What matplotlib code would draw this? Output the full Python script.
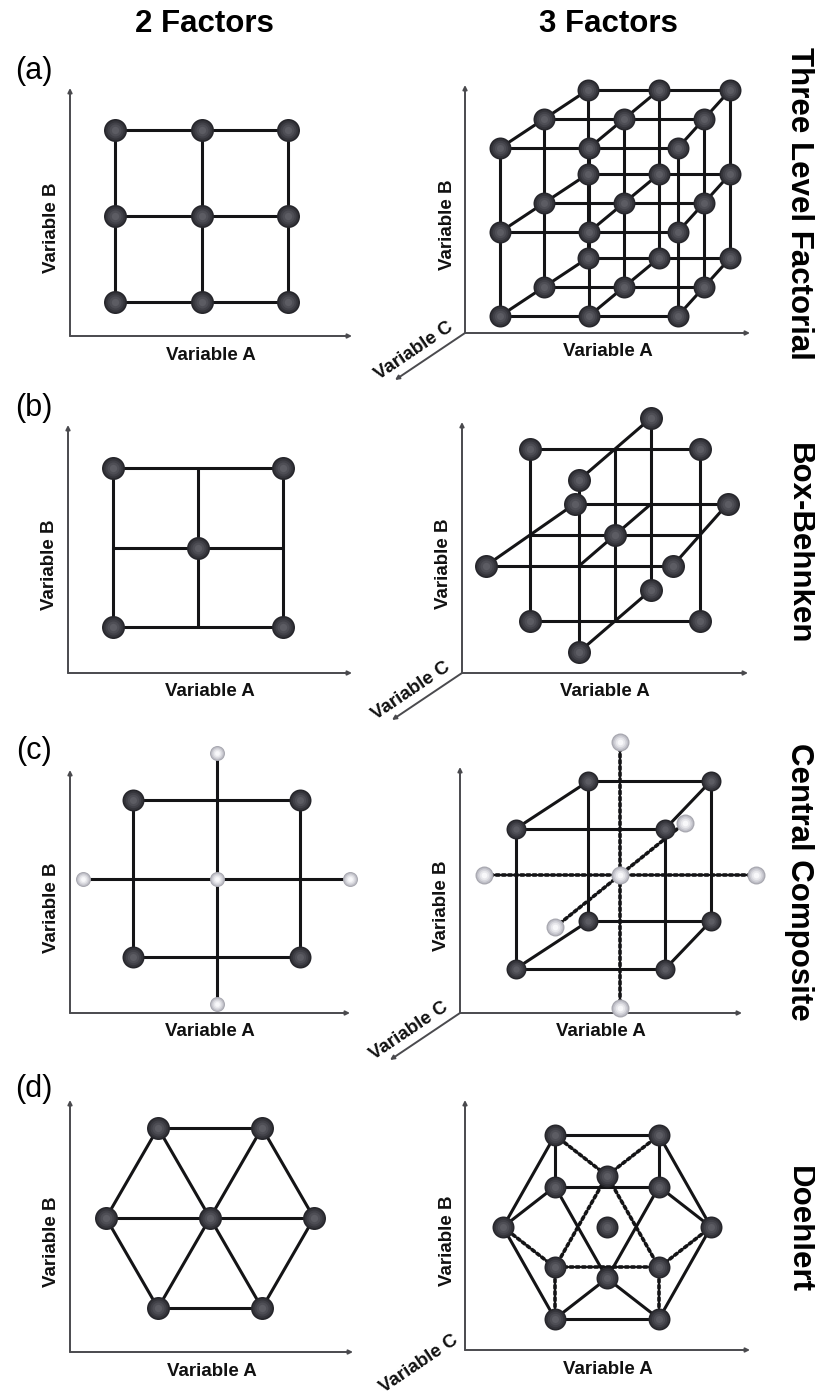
import numpy as np
import matplotlib
matplotlib.use("Agg")
import matplotlib.pyplot as plt
from matplotlib.transforms import Affine2D

plt.rcParams['font.family'] = ['Liberation Sans', 'DejaVu Sans']

# ------------------------------------------------------------------ data
# coded factor levels of each experimental design
col_titles = ["2 Factors", "3 Factors"]
row_titles = ["Three Level Factorial", "Box-Behnken", "Central Composite", "Doehlert"]
panel_tags = ["(a)", "(b)", "(c)", "(d)"]
axis_names = ["Variable A", "Variable B", "Variable C"]

# (a) three level factorial
ff2_A = [-1, 0, 1, -1, 0, 1, -1, 0, 1]
ff2_B = [1, 1, 1, 0, 0, 0, -1, -1, -1]
ff3_A = [-1, 0, 1, -1, 0, 1, -1, 0, 1,
         -1, 0, 1, -1, 0, 1, -1, 0, 1,
         -1, 0, 1, -1, 0, 1, -1, 0, 1]
ff3_B = [1, 1, 1, 0, 0, 0, -1, -1, -1,
         1, 1, 1, 0, 0, 0, -1, -1, -1,
         1, 1, 1, 0, 0, 0, -1, -1, -1]
ff3_C = [1, 1, 1, 1, 1, 1, 1, 1, 1,
         0, 0, 0, 0, 0, 0, 0, 0, 0,
         -1, -1, -1, -1, -1, -1, -1, -1, -1]

# (b) Box-Behnken
bb2_A = [-1, 1, 0, -1, 1]
bb2_B = [1, 1, 0, -1, -1]
bb2_frame = [((-1, 1), (1, 1)), ((1, 1), (1, -1)), ((1, -1), (-1, -1)),
             ((-1, -1), (-1, 1)), ((-1, 0), (1, 0)), ((0, 1), (0, -1))]
bb3_A = [-1, 1, -1, 1, -1, 1, -1, 1, 0, 0, 0, 0, 0]
bb3_B = [1, 1, -1, -1, 0, 0, 0, 0, 1, 1, -1, -1, 0]
bb3_C = [0, 0, 0, 0, 1, 1, -1, -1, 1, -1, 1, -1, 0]
bb3_axes = [((-1, 0, 0), (1, 0, 0)), ((0, -1, 0), (0, 1, 0)), ((0, 0, -1), (0, 0, 1))]

# (c) central composite
ccd2_fA = [-1, 1, -1, 1]
ccd2_fB = [1, 1, -1, -1]
ccd2_sA = [0, -1.6, 1.6, 0, 0]
ccd2_sB = [0, 0, 0, 1.6, -1.6]
ccd3_fA = [-1, 1, -1, 1, -1, 1, -1, 1]
ccd3_fB = [1, 1, -1, -1, 1, 1, -1, -1]
ccd3_fC = [1, 1, 1, 1, -1, -1, -1, -1]
ccd3_sA = [0, -2.0, 2.0, 0, 0, 0, 0]
ccd3_sB = [0, 0, 0, 1.9, -1.9, 0, 0]
ccd3_sC = [0, 0, 0, 0, 0, 2.2, -2.2]

# (d) Doehlert
doe2_A = [-0.5, 0.5, -1, 0, 1, -0.5, 0.5]
doe2_B = [0.866, 0.866, 0, 0, 0, -0.866, -0.866]
doe3_A = [0, 1, 0.5, -1, -0.5, 0.5, -0.5, 0.5, -0.5, 0, 0.5, -0.5, 0]
doe3_B = [0, 0, 0.866, 0, -0.866, -0.866, 0.866, 0.289, 0.289, -0.577, -0.289, -0.289, 0.577]
doe3_C = [0, 0, 0, 0, 0, 0, 0, 0.817, 0.817, 0.817, -0.817, -0.817, -0.817]

# ------------------------------------------------------------------ layout (pixels)
W, H = 815, 1396
fig = plt.figure(figsize=(W / 100, H / 100), dpi=100)
ax = fig.add_axes([0, 0, 1, 1])
ax.set_xlim(0, W)
ax.set_ylim(H, 0)
ax.axis('off')

L2 = [dict(cx=201.5, cy=216, sA=86.5, sB=86),
      dict(cx=198, cy=547.5, sA=85, sB=79.5),
      dict(cx=216.5, cy=878.5, sA=83.5, sB=78.5),
      dict(cx=210, cy=1218, sA=104, sB=104)]
L3 = [dict(cx=624, cy=203, sA=80, sB=84, k=0.11, dx=-35, dy=29),
      dict(cx=615, cy=535, sA=85, sB=86, k=0.10, dx=-36, dy=31),
      dict(cx=620, cy=875, sA=68, sB=70, k=0.10, dx=-29.5, dy=23.75),
      dict(cx=607, cy=1227, sA=104, sB=106, k=0.0, dx=0, dy=-12)]
AXL = [(70, 88, 336, 352), (68, 425, 673, 352), (70, 770, 1013, 350), (70, 1100, 1352, 353)]
AXR = [(465, 85, 333, 750), (462, 422, 673, 748), (460, 767, 1013, 742), (465, 1100, 1350, 750)]
TITLE_Y = [203, 544, 882, 1230]
TAG_Y = [71, 408, 751, 1089]
CLAB = [(-51, 18), (-51, 18), (-51, 18), (-46, 14)]

LINE_C = '#141416'
AX_C = '#4a4a4e'
LW = 2.2


def tr2(p):
    return Affine2D().scale(p['sA'], -p['sB']).translate(p['cx'], p['cy']) + ax.transData


def proj(A, B, C, p):
    A, B, C = (np.asarray(v, float) for v in (A, B, C))
    u = A * (1 + p['k'] * C) + C * p['dx'] / p['sA']
    v = B - C * p['dy'] / p['sB']
    return u, v


def spheres(xs, ys, tr, d_px, light=False, z=5):
    if light:
        cols = ['#a8a8b0', '#c0c0c8', '#d6d6dc', '#e8e8ec', '#f8f8fa']
    else:
        cols = ['#26262b', '#34343a', '#414148', '#4e4e55', '#5c5c63']
    fr = [1.0, 0.86, 0.7, 0.52, 0.32]
    for c, f in zip(cols, fr):
        ax.plot(xs, ys, 'o', ms=d_px * 0.72 * f, color=c, mec='none',
                transform=tr, zorder=z)


def seg(p0, p1, tr, dotted=False, z=3):
    ls = (0, (0.8, 0.9)) if dotted else '-'
    ax.plot([p0[0], p1[0]], [p0[1], p1[1]], color=LINE_C, lw=LW if not dotted else 2.6,
            ls=ls, transform=tr, zorder=z, solid_capstyle='butt', dash_capstyle='round')


def pairs_at(P, dist, tol=0.05):
    P = np.asarray(P, float)
    out = []
    for i in range(len(P)):
        for j in range(i + 1, len(P)):
            if abs(np.linalg.norm(P[i] - P[j]) - dist) < tol:
                out.append((i, j))
    return out


def draw_frame(x0, top, bot, right, three, clab=(-51, 18)):
    kw = dict(arrowstyle='-|>', color=AX_C, lw=1.4, mutation_scale=6,
              shrinkA=0, shrinkB=0)
    ax.annotate('', xy=(x0, top), xytext=(x0, bot), arrowprops=kw, zorder=1)
    ax.annotate('', xy=(right, bot), xytext=(x0, bot), arrowprops=kw, zorder=1)
    fkw = dict(fontsize=13.5, fontweight='bold', ha='center', va='center', color='#111')
    ax.text((x0 + right) / 2, bot + 19, axis_names[0], **fkw)
    ax.text(x0 - 18, (top + bot) / 2 + 16, axis_names[1], rotation=90, **fkw)
    if three:
        ax.annotate('', xy=(x0 - 70, bot + 47), xytext=(x0, bot), arrowprops=kw, zorder=1)
        ax.text(x0 + clab[0], bot + clab[1], axis_names[2], rotation=34,
                rotation_mode='anchor', **fkw)


# ------------------------------------------------------------------ titles
ax.text(204, 24, col_titles[0], fontsize=22.5, fontweight='bold', ha='center', va='center')
ax.text(608, 24, col_titles[1], fontsize=22.5, fontweight='bold', ha='center', va='center')
for r in range(4):
    ax.text(799, TITLE_Y[r], row_titles[r], fontsize=22.5, fontweight='bold',
            rotation=270, ha='center', va='center')
    ax.text(34, TAG_Y[r], panel_tags[r], fontsize=22, ha='center', va='center')
    draw_frame(*AXL[r], three=False)
    draw_frame(*AXR[r], three=True, clab=CLAB[r])

# ------------------------------------------------------------------ (a) 2D factorial
t = tr2(L2[0])
P = list(zip(ff2_A, ff2_B))
for i, j in pairs_at(P, 1.0):
    seg(P[i], P[j], t)
spheres(ff2_A, ff2_B, t, 23)

# (a) 3D factorial
p = L3[0]
t = tr2(p)
u, v = proj(ff3_A, ff3_B, ff3_C, p)
P3 = list(zip(ff3_A, ff3_B, ff3_C))
for i, j in pairs_at(P3, 1.0):
    seg((u[i], v[i]), (u[j], v[j]), t)
spheres(u, v, t, 22)

# ------------------------------------------------------------------ (b) 2D Box-Behnken
t = tr2(L2[1])
for a, b in bb2_frame:
    seg(a, b, t)
spheres(bb2_A, bb2_B, t, 23)

# (b) 3D Box-Behnken
p = L3[1]
t = tr2(p)
u, v = proj(bb3_A, bb3_B, bb3_C, p)
P3 = list(zip(bb3_A, bb3_B, bb3_C))
for i, j in pairs_at(P3, 2.0):
    seg((u[i], v[i]), (u[j], v[j]), t)
for a, b in bb3_axes:
    ua, va = proj(*[[c] for c in a], p)
    ub, vb = proj(*[[c] for c in b], p)
    seg((ua[0], va[0]), (ub[0], vb[0]), t)
spheres(u, v, t, 23)

# ------------------------------------------------------------------ (c) 2D CCD
t = tr2(L2[2])
P = list(zip(ccd2_fA, ccd2_fB))
for i, j in pairs_at(P, 2.0):
    seg(P[i], P[j], t)
seg((ccd2_sA[1], ccd2_sB[1]), (ccd2_sA[2], ccd2_sB[2]), t)
seg((ccd2_sA[3], ccd2_sB[3]), (ccd2_sA[4], ccd2_sB[4]), t)
spheres(ccd2_fA, ccd2_fB, t, 22)
spheres(ccd2_sA, ccd2_sB, t, 15, light=True)

# (c) 3D CCD
p = L3[2]
t = tr2(p)
u, v = proj(ccd3_fA, ccd3_fB, ccd3_fC, p)
P3 = list(zip(ccd3_fA, ccd3_fB, ccd3_fC))
for i, j in pairs_at(P3, 2.0):
    seg((u[i], v[i]), (u[j], v[j]), t)
us, vs = proj(ccd3_sA, ccd3_sB, ccd3_sC, p)
for i, j in [(1, 2), (3, 4), (5, 6)]:
    seg((us[i], vs[i]), (us[j], vs[j]), t, dotted=True)
spheres(u, v, t, 20)
spheres(us, vs, t, 18, light=True)

# ------------------------------------------------------------------ (d) 2D Doehlert
t = tr2(L2[3])
P = list(zip(doe2_A, doe2_B))
for i, j in pairs_at(P, 1.0):
    seg(P[i], P[j], t)
spheres(doe2_A, doe2_B, t, 23)

# (d) 3D Doehlert
p = L3[3]
t = tr2(p)
u, v = proj(doe3_A, doe3_B, doe3_C, p)
P3 = list(zip(doe3_A, doe3_B, doe3_C))
for i, j in pairs_at(P3, 1.0):
    if i == 0 or j == 0:
        continue
    back = min(doe3_C[i], doe3_C[j]) < -0.1
    seg((u[i], v[i]), (u[j], v[j]), t, dotted=back)
spheres(u, v, t, 22)

fig.savefig("out.png", dpi=100, facecolor='white')
